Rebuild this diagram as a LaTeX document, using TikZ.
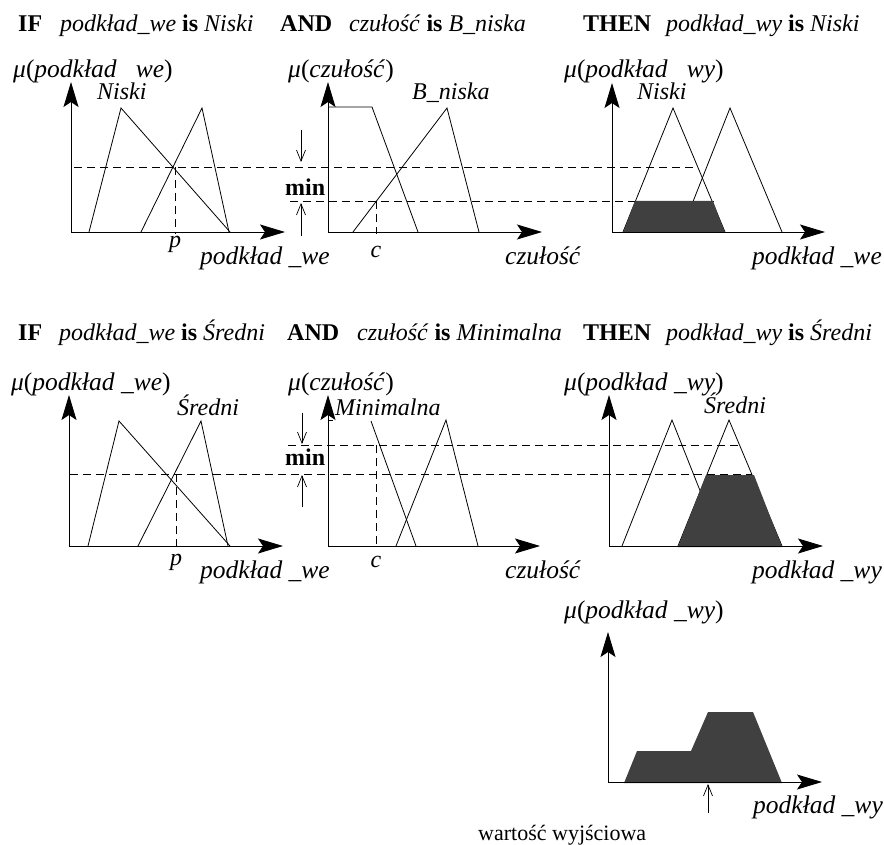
\documentclass[tikz,border=0pt]{standalone}
\usepackage{fontspec}
\setmainfont{Liberation Serif}
\usetikzlibrary{arrows.meta}

\begin{document}
\begin{tikzpicture}[x=1pt,y=-1pt,
  axis/.style={line width=0.9pt,-{Stealth[length=25pt,width=15pt,inset=5pt]}},
  curve/.style={line width=0.8pt},
  guide/.style={line width=0.8pt,dash pattern=on 8pt off 5pt},
  cut/.style={fill=black!75,draw=none},
  minarrow/.style={line width=0.7pt,-{Straight Barb[length=11pt,width=9pt]}},
  it/.style={inner sep=0pt,anchor=base west,font=\fontsize{24}{28}\selectfont\itshape},
  rm/.style={inner sep=0pt,anchor=base west,font=\fontsize{24}{28}\selectfont},
  axlbl/.style={inner sep=0pt,anchor=base west,font=\fontsize{25.5}{30}\selectfont},
  tick/.style={inner sep=0pt,anchor=base,font=\fontsize{24}{28}\selectfont\itshape}
]
\useasboundingbox (0,0) rectangle (884,845);

% ---------- rule 1: headline ----------
\node[rm] (r1if)   at (18,32)  {\textbf{IF}};
\node[rm] (r1a)    at (60,32)  {\textit{podkład\_we} \textbf{is} \textit{Niski}};
\node[rm] (r1and)  at (280,32) {\textbf{AND}};
\node[rm] (r1b)    at (349,32) {\textit{czułość} \textbf{is} \textit{B\_niska}};
\node[rm] (r1then) at (583,32) {\textbf{THEN}};
\node[rm] (r1c)    at (666,32) {\textit{podkład\_wy} \textbf{is} \textit{Niski}};

% ---------- rule 1: input podklad_we ----------
\draw[curve] (89,232) -- (121,108) -- (230,232);
\draw[curve] (141,232) -- (202,108) -- (229,232);
\draw[guide] (74,167) -- (695,167);
\draw[guide] (175,167) -- (175,234);
\draw[axis] (71,232) -- (71,82);
\draw[axis] (71,232) -- (285,232);
\node[axlbl] (mu1) at (13,78) {\textit{μ}(\textit{podkład}\ \hphantom{\_}\textit{we})};
\node[it] (n1)  at (97,100) {Niski};
\node[tick] (p1) at (175,248) {p};
\node[axlbl] (ax1) at (200,265) {\textit{podkład \_we}};

% ---------- rule 1: input czulosc ----------
\draw[curve] (328,107) -- (372,107) -- (418,232);
\draw[curve] (353,232) -- (447,108) -- (479,232);
\draw[guide] (290,201) -- (715,201);
\draw[guide] (376,201) -- (376,234);
\draw[axis] (328,232) -- (328,82);
\draw[axis] (328,232) -- (542,232);
\node[axlbl] (mu2) at (288,78) {\textit{μ}(\textit{czułość})};
\node[it] (bn)  at (412,100) {B\_niska};
\node[tick] (c1) at (376,258) {c};
\node[axlbl] (ax2) at (505,265) {\textit{czułość}};
\node[rm] (min1) at (285,196) {\textbf{min}};
\draw[minarrow] (301,130) -- (301,162);
\draw[minarrow] (301,236) -- (301,203);

% ---------- rule 1: output ----------
\draw[curve] (623,232) -- (673,108) -- (725,232);
\draw[curve] (681,232) -- (730,108) -- (782,232);
\fill[cut] (623,233) -- (635,201) -- (713,201) -- (725,233) -- cycle;
\draw[axis] (612,232) -- (612,83);
\draw[axis] (612,232) -- (825,232);
\node[axlbl] (mu3) at (564,78) {\textit{μ}(\textit{podkład}\ \hphantom{\_}\textit{wy})};
\node[it] (n3)  at (637,100) {Niski};
\node[axlbl] (ax3) at (752,265) {\textit{podkład \_we}};

% ---------- rule 2: headline ----------
\node[rm] (r2if)   at (18,341)  {\textbf{IF}};
\node[rm] (r2a)    at (59,341)  {\textit{podkład\_we} \textbf{is} \textit{Średni}};
\node[rm] (r2and)  at (287,341) {\textbf{AND}};
\node[rm] (r2b)    at (357,341) {\textit{czułość} \textbf{is} \textit{Minimalna}};
\node[rm] (r2then) at (583,341) {\textbf{THEN}};
\node[rm] (r2c)    at (666,341) {\textit{podkład\_wy} \textbf{is} \textit{Średni}};

% ---------- rule 2: input podklad_we ----------
\draw[curve] (88,546) -- (119,421) -- (230,546);
\draw[curve] (138,546) -- (201,421) -- (228,546);
\draw[guide] (70,474) -- (752,474);
\draw[guide] (176,474) -- (176,548);
\draw[axis] (69,546) -- (69,395);
\draw[axis] (69,546) -- (283,546);
\node[axlbl] (mu4) at (11,390) {\textit{μ}(\textit{podkład \_we})};
\node[it] (s4)  at (177,415) {Średni};
\node[tick] (p2) at (176,565) {p};
\node[axlbl] (ax4) at (200,578) {\textit{podkład \_we}};

% ---------- rule 2: input czulosc ----------
\draw[curve] (328,420) -- (333,420);
\draw[curve] (371,421) -- (416,546);
\draw[curve] (396,546) -- (446,420) -- (478,546);
\draw[guide] (288,445) -- (740,445);
\draw[guide] (376,445) -- (376,548);
\draw[axis] (328,546) -- (328,395);
\draw[axis] (328,546) -- (540,546);
\node[axlbl] (mu5) at (288,390) {\textit{μ}(\textit{czułość})};
\node[it] (mn)  at (335,415) {Minimalna};
\node[tick] (c2) at (376,567) {c};
\node[axlbl] (ax5) at (505,578) {\textit{czułość}};
\node[rm] (min2) at (285,465) {\textbf{min}};
\draw[minarrow] (302,413) -- (302,444);
\draw[minarrow] (302,507) -- (302,475);

% ---------- rule 2: output ----------
\draw[curve] (622,546) -- (672,420) -- (722,546);
\draw[curve] (678,546) -- (729,420) -- (782,546);
\fill[cut] (678,547) -- (706,475) -- (754,475) -- (782,547) -- cycle;
\draw[axis] (609,546) -- (609,395);
\draw[axis] (609,546) -- (823,546);
\node[axlbl] (mu6) at (564,390) {\textit{μ}(\textit{podkład \_wy})};
\node[it] (s6)  at (704,413) {Średni};
\node[axlbl] (ax6) at (752,578) {\textit{podkład \_wy}};

% ---------- aggregated output ----------
\fill[cut] (624,783) -- (637,751) -- (691,751) -- (708,712) -- (753,712) -- (782,783) -- cycle;
\draw[axis] (608,782) -- (608,632);
\draw[axis] (608,782) -- (822,782);
\coordinate (crisp) at (708,784);
\draw[minarrow] (708,813) -- (crisp);
\node[axlbl] (mu7) at (564,618) {\textit{μ}(\textit{podkład \_wy})};
\node[axlbl] (ax7) at (753,813) {\textit{podkład \_wy}};
\node[inner sep=0pt,anchor=base west,font=\fontsize{22}{26}\selectfont] (out) at (478,840) {wartość wyjściowa};
\end{tikzpicture}
\end{document}
